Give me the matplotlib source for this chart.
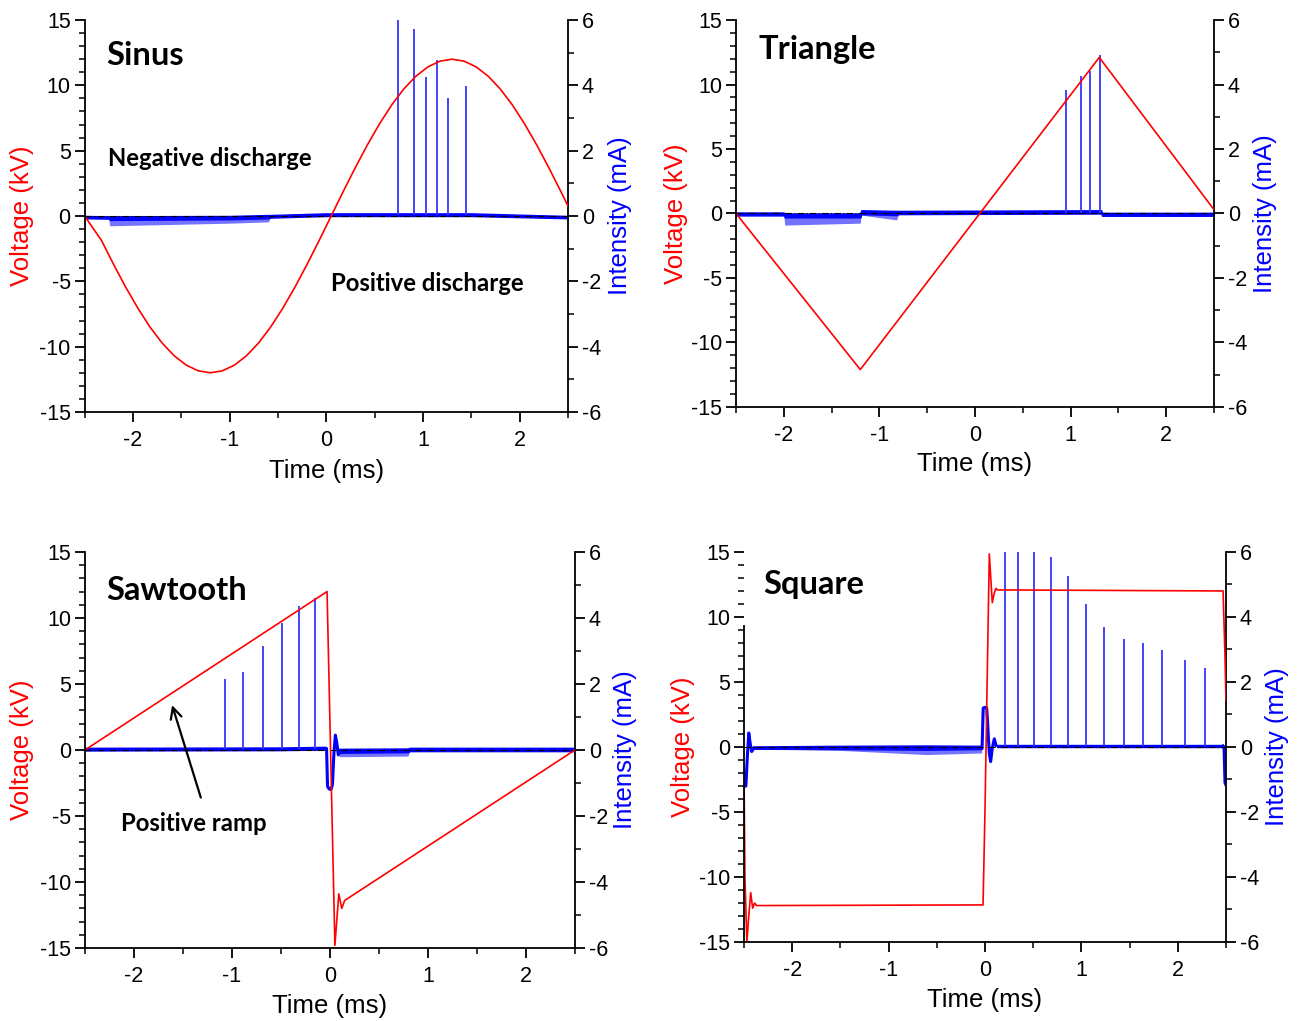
import numpy as np
import matplotlib
matplotlib.use("Agg")
import matplotlib.pyplot as plt
from matplotlib.ticker import MultipleLocator

plt.rcParams['font.family'] = ['Liberation Sans', 'DejaVu Sans']

# ---------------- data ----------------
# Sinus panel
sin_t = [-2.5] + [-2.45 + 0.125 * k for k in range(1, 41)]
sin_v = [0.0, -1.88, -3.71, -5.45, -7.05, -8.49, -9.71, -10.69, -11.41, -11.85,
         -12.0, -11.85, -11.41, -10.69, -9.71, -8.49, -7.05, -5.45, -3.71, -1.88,
         0.0, 1.88, 3.71, 5.45, 7.05, 8.49, 9.71, 10.69, 11.41, 11.85,
         12.0, 11.85, 11.41, 10.69, 9.71, 8.49, 7.05, 5.45, 3.71, 1.88, 0.0]
sin_spike_t = [0.74, 0.91, 1.03, 1.14, 1.26, 1.44]
sin_spike_i = [6.0, 5.73, 4.25, 4.77, 3.60, 3.97]
sin_env_t = [-2.5, -2.25, -2.24, -1.0, -0.6, -0.58, 0.0, 1.5, 2.5]
sin_env_spk = [-0.07, -0.08, -0.30, -0.22, -0.18, -0.05, 0.0, 0.0, -0.07]
sin_env_lo = [-0.07, -0.08, -0.12, -0.10, -0.07, -0.05, 0.0, 0.0, -0.07]
sin_env_hi = [0.0, -0.01, -0.01, 0.0, 0.03, 0.03, 0.08, 0.08, 0.0]

# Triangle panel
tri_t = [-2.5, -1.2, 1.3, 2.5]
tri_v = [0.0, -12.1, 12.1, 0.3]
tri_spike_t = [0.95, 1.11, 1.20, 1.31]
tri_spike_i = [3.82, 4.25, 4.42, 4.93]
tri_env_t = [-2.5, -2.0, -1.99, -1.2, -1.19, -0.82, -0.8, 1.32, 1.33, 2.5]
tri_env_spk = [-0.06, -0.06, -0.36, -0.30, -0.05, -0.20, -0.02, 0.0, -0.07, -0.07]
tri_env_lo = [-0.06, -0.06, -0.12, -0.12, -0.02, -0.05, -0.02, 0.0, -0.07, -0.07]
tri_env_hi = [0.03, 0.03, 0.0, 0.0, 0.10, 0.08, 0.08, 0.10, 0.02, 0.02]

# Sawtooth panel
saw_t = [-2.5, -0.03, 0.05, 0.09, 0.12, 0.15, 2.5]
saw_v = [0.0, 12.0, -14.8, -10.9, -12.0, -11.4, 0.0]
saw_spike_t = [-1.07, -0.89, -0.68, -0.49, -0.32, -0.15]
saw_spike_i = [2.14, 2.36, 3.15, 3.84, 4.37, 4.61]
saw_tr_t = [-0.035, -0.025, -0.01, 0.01, 0.025, 0.04, 0.055, 0.07, 0.085, 0.1]
saw_tr_i = [0.03, -1.1, -1.18, -1.2, -1.05, -0.1, 0.45, 0.2, -0.15, -0.05]
saw_env_t = [-2.5, -0.5, -0.04, np.nan, 0.1, 0.8, 0.82, 2.5]
saw_env_spk = [-0.03, -0.02, 0.0, np.nan, -0.22, -0.20, -0.05, -0.05]
saw_env_lo = [-0.03, -0.02, 0.0, np.nan, -0.10, -0.08, -0.05, -0.05]
saw_env_hi = [0.05, 0.06, 0.08, np.nan, 0.02, 0.03, 0.05, 0.05]

# Square panel
sq_t = [-2.5, -2.49, -2.47, -2.45, -2.43, -2.41, -2.39, -2.37, -0.02, 0.0,
        0.045, 0.076, 0.095, 0.114, 0.13, 2.47, 2.49, 2.5]
sq_v = [-1.5, -10.0, -15.0, -13.0, -11.2, -12.4, -12.0, -12.2, -12.15, -5.0,
        14.85, 11.1, 11.8, 12.2, 12.08, 12.0, 7.0, 3.6]
sq_spike_t = [0.207, 0.339, 0.504, 0.68, 0.86, 1.05, 1.24, 1.44, 1.64, 1.84, 2.07, 2.28]
sq_spike_i = [6.0, 6.0, 6.0, 5.86, 5.26, 4.41, 3.69, 3.31, 3.21, 2.97, 2.69, 2.44]
sq_tr1_t = [-2.5, -2.48, -2.465, -2.45, -2.435, -2.42, -2.40]
sq_tr1_i = [-1.22, -1.2, -0.3, 0.43, 0.1, -0.14, -0.05]
sq_tr2_t = [-0.03, -0.018, 0.0, 0.018, 0.03, 0.045, 0.059, 0.075, 0.097, 0.115]
sq_tr2_i = [-0.03, 1.2, 1.22, 1.2, 0.6, -0.2, -0.45, -0.05, 0.25, 0.05]
sq_tr3_t = [2.47, 2.48, 2.49, 2.5]
sq_tr3_i = [0.03, 0.0, -1.1, -1.17]
sq_env_t = [-2.40, -1.5, -0.6, -0.03, np.nan, 0.12, 2.47]
sq_env_spk = [-0.07, -0.12, -0.25, -0.20, np.nan, 0.0, 0.0]
sq_env_lo = [-0.07, -0.08, -0.10, -0.08, np.nan, 0.0, 0.0]
sq_env_hi = [0.0, 0.02, 0.03, 0.02, np.nan, 0.07, 0.07]

x_ticks = [-2, -1, 0, 1, 2]
v_ticks = [-15, -10, -5, 0, 5, 10, 15]
i_ticks = [-6, -4, -2, 0, 2, 4, 6]

RED = '#ff0000'
BLUE = '#0000ff'
TICK_FS = 15.5
LAB_FS = 18.5
TITLE_FS = 23.5
NOTE_FS = 17.2
BOLD_FAM = ['Lato', 'DejaVu Sans']

fig = plt.figure(figsize=(13.02, 10.21), dpi=100)


def panel(rect, vt, vv, st, si, env, transients, title, title_xy, labpos, spine_top=15):
    ax = fig.add_axes(rect)
    ax2 = ax.twinx()
    ax.set_zorder(ax2.get_zorder() + 1)
    ax.patch.set_visible(False)

    ax.set_xlim(-2.5, 2.5)
    ax.set_ylim(-15, 15)
    ax2.set_ylim(-6, 6)

    # current (right axis)
    et, espk, elo, ehi = env
    ax2.fill_between(et, espk, elo, color=BLUE, alpha=0.55, lw=0)
    ax2.fill_between(et, elo, ehi, color=BLUE, lw=1.0, edgecolor=BLUE)
    for tt, ii in transients:
        ax2.plot(tt, ii, color=BLUE, lw=2.2)
    ax2.vlines(st, 0.03, si, color='#3535ff', lw=1.3)
    ax2.axhline(0, color='black', lw=0.8, ls=(0, (6, 2, 1, 2)), zorder=3)

    # voltage (left axis)
    ax.plot(vt, vv, color=RED, lw=1.2)

    for a in (ax, ax2):
        a.spines['top'].set_visible(False)
        for s in a.spines.values():
            s.set_linewidth(1.3)
    ax.spines['right'].set_visible(False)
    ax2.spines['left'].set_visible(False)
    ax2.spines['bottom'].set_visible(False)
    if spine_top != 15:
        ax.spines['left'].set_bounds(-15, spine_top)

    ax.set_xticks(x_ticks)
    ax.set_xticklabels([str(x) for x in x_ticks])
    ax.xaxis.set_minor_locator(MultipleLocator(0.5))
    ax.set_yticks(v_ticks)
    ax.set_yticklabels([str(v) for v in v_ticks])
    ax.yaxis.set_minor_locator(MultipleLocator(1))
    ax2.set_yticks(i_ticks)
    ax2.set_yticklabels([str(v) for v in i_ticks])
    ax2.yaxis.set_minor_locator(MultipleLocator(1))
    for a in (ax, ax2):
        a.tick_params(which='major', length=7, width=1.3, direction='out',
                      labelsize=TICK_FS, pad=3)
        a.tick_params(which='minor', length=4, width=1.1, direction='out')
    ax.tick_params(axis='x', pad=6)

    lx, rx, by = labpos
    ax.text(lx, 0.5, 'Voltage (kV)', color=RED, fontsize=LAB_FS, rotation=90,
            ha='center', va='center', transform=ax.transAxes)
    ax.text(rx, 0.5, 'Intensity (mA)', color=BLUE, fontsize=LAB_FS, rotation=90,
            ha='center', va='center', transform=ax.transAxes)
    ax.text(0.5, by, 'Time (ms)', color='black', fontsize=LAB_FS,
            ha='center', va='center', transform=ax.transAxes)

    ax.text(title_xy[0], title_xy[1], title, fontsize=TITLE_FS, fontweight='bold',
            family=BOLD_FAM, ha='left', va='center')
    return ax, ax2


ax1, _ = panel([0.065, 0.5965, 0.3713, 0.3839], sin_t, sin_v, sin_spike_t, sin_spike_i,
               (sin_env_t, sin_env_spk, sin_env_lo, sin_env_hi), [], 'Sinus', (-2.28, 12.3),
               (-0.13, 1.108, -0.1505))
ax1.text(-2.26, 4.4, 'Negative discharge', fontsize=NOTE_FS, fontweight='bold',
         family=BOLD_FAM, ha='left', va='center')
ax1.text(0.05, -5.2, 'Positive discharge', fontsize=NOTE_FS, fontweight='bold',
         family=BOLD_FAM, ha='left', va='center')

panel([0.5653, 0.6014, 0.3671, 0.3790], tri_t, tri_v, tri_spike_t, tri_spike_i,
      (tri_env_t, tri_env_spk, tri_env_lo, tri_env_hi), [], 'Triangle', (-2.26, 12.75),
      (-0.1255, 1.1067, -0.147))

ax3, _ = panel([0.0653, 0.0715, 0.3763, 0.3879], saw_t, saw_v, saw_spike_t, saw_spike_i,
               (saw_env_t, saw_env_spk, saw_env_lo, saw_env_hi), [(saw_tr_t, saw_tr_i)],
               'Sawtooth', (-2.28, 12.1), (-0.1286, 1.102, -0.1465))
ax3.text(-2.13, -5.6, 'Positive ramp', fontsize=NOTE_FS, fontweight='bold',
         family=BOLD_FAM, ha='left', va='center')
ax3.annotate('', xy=(-1.62, 3.6), xytext=(-1.31, -3.8),
             arrowprops=dict(arrowstyle='->,head_length=0.8,head_width=0.4',
                             color='black', lw=1.6))

panel([0.5714, 0.0774, 0.3702, 0.3820], sq_t, sq_v, sq_spike_t, sq_spike_i,
      (sq_env_t, sq_env_spk, sq_env_lo, sq_env_hi),
      [(sq_tr1_t, sq_tr1_i), (sq_tr2_t, sq_tr2_i), (sq_tr3_t, sq_tr3_i)],
      'Square', (-2.30, 12.5), (-0.1266, 1.1058, -0.1487), spine_top=9.3)

fig.savefig('out.png', dpi=100)
